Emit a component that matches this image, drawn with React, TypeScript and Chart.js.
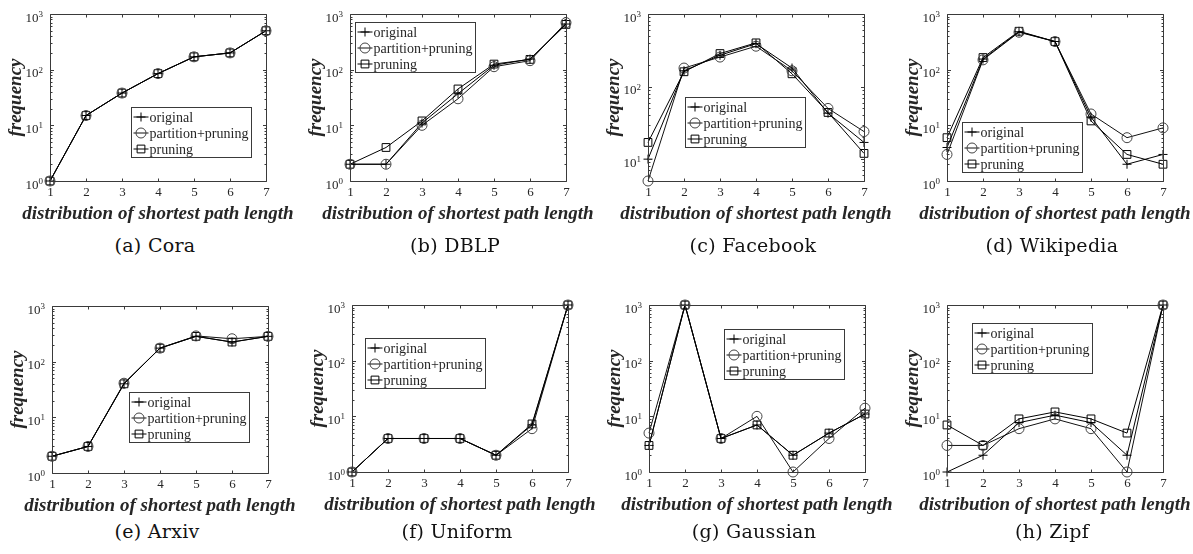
import React, { useEffect, useRef } from 'react';
import { Chart, registerables } from 'chart.js';

Chart.register(...registerables);

// ---------------- data ----------------
const xCategories = [1, 2, 3, 4, 5, 6, 7];
const xTickLabels = ['1', '2', '3', '4', '5', '6', '7'];
const yDecadeExponents = [0, 1, 2, 3];
const seriesNames = ['original', 'partition+pruning', 'pruning'];
const captions = ['(a) Cora', '(b) DBLP', '(c) Facebook', '(d) Wikipedia', '(e) Arxiv', '(f) Uniform', '(g) Gaussian', '(h) Zipf'];
const xAxisTitle = 'distribution of shortest path length';
const yAxisTitle = 'frequency';

const coraOriginal = [1, 15, 38, 85, 170, 200, 500];
const coraPartition = [1, 15, 38, 85, 170, 200, 500];
const coraPruning = [1, 15, 38, 85, 170, 200, 500];

const dblpOriginal = [2, 2, 11, 37, 120, 155, 660];
const dblpPartition = [2, 2, 10, 30, 113, 145, 700];
const dblpPruning = [2, 4, 12, 45, 126, 153, 650];

const facebookOriginal = [10, 165, 270, 390, 180, 43, 17];
const facebookPartition = [5, 180, 255, 360, 165, 50, 24];
const facebookPruning = [17, 160, 285, 400, 150, 44, 12];

const wikiOriginal = [4, 155, 480, 320, 14, 2, 3];
const wikiPartition = [3, 150, 470, 320, 16, 6, 9];
const wikiPruning = [6, 165, 490, 320, 12, 3, 2];

const arxivOriginal = [2, 3, 40, 175, 285, 225, 285];
const arxivPartition = [2, 3, 41, 175, 290, 258, 285];
const arxivPruning = [2, 3, 40, 175, 285, 225, 285];

const uniformOriginal = [1, 4, 4, 4, 2, 7, 1000];
const uniformPartition = [1, 4, 4, 4, 2, 6, 1000];
const uniformPruning = [1, 4, 4, 4, 2, 7.3, 1000];

const gaussianOriginal = [3, 1000, 4, 7, 2, 5, 11];
const gaussianPartition = [5, 1000, 4, 10, 1, 4, 14];
const gaussianPruning = [3, 1000, 4, 7, 2, 5, 11];

const zipfOriginal = [1, 2, 7.7, 10.5, 7.7, 2, 1000];
const zipfPartition = [3, 3, 6, 9, 6, 1, 1000];
const zipfPruning = [7, 3, 9, 12, 9, 5, 1000];

const yMinValues = [1, 1, 5, 1, 1, 1, 1, 1];
const yMaxValue = 1000;

const panelSeries = [
  [coraOriginal, coraPartition, coraPruning],
  [dblpOriginal, dblpPartition, dblpPruning],
  [facebookOriginal, facebookPartition, facebookPruning],
  [wikiOriginal, wikiPartition, wikiPruning],
  [arxivOriginal, arxivPartition, arxivPruning],
  [uniformOriginal, uniformPartition, uniformPruning],
  [gaussianOriginal, gaussianPartition, gaussianPruning],
  [zipfOriginal, zipfPartition, zipfPruning],
];

// ---------------- layout / style ----------------
const PLOT_W = 216;
const PLOT_H = 167;
const PAD_L = 50;
const PAD_T = 10;
const PAD_R = 40;
const PAD_B = 45;
const PLOT_POS = [
  [50, 14], [350, 14], [648, 14], [947, 14],
  [52, 306], [352, 305], [649, 305], [947, 305],
];
const CAPTION_Y = [245, 245, 245, 245, 531, 531, 531, 531];
const LEGEND_POS = [
  [81, 93], [5, 8], [37, 83], [15, 108],
  [77, 86], [13, 33], [75, 24], [25, 18],
];
const AXIS_COLOR = '#3a3a3a';
const TEXT_COLOR = '#262626';
const LINE_COLORS = ['#000000', '#111111', '#000000'];
const MARKER_COLORS = ['#000000', '#444444', '#000000'];
const POINT_STYLES = ['cross', 'circle', 'rect'];
const POINT_RADII = [4.5, 5, 5.5];
const SERIF = '"Liberation Serif", "Times New Roman", serif';

function drawMarker(ctx: CanvasRenderingContext2D, style: string, x: number, y: number, r: number, color: string) {
  ctx.save();
  ctx.strokeStyle = color;
  ctx.lineWidth = 1;
  ctx.beginPath();
  if (style === 'cross') {
    ctx.moveTo(x - r, y); ctx.lineTo(x + r, y);
    ctx.moveTo(x, y - r); ctx.lineTo(x, y + r);
  } else if (style === 'circle') {
    ctx.arc(x, y, r, 0, Math.PI * 2);
  } else {
    const s = Math.SQRT1_2 * r;
    ctx.rect(x - s, y - s, 2 * s, 2 * s);
  }
  ctx.stroke();
  ctx.restore();
}

const axesPlugin = {
  id: 'matlabAxes',
  afterDatasetsDraw(chart: any, _args: any, opts: any) {
    const ctx: CanvasRenderingContext2D = chart.ctx;
    const a = chart.chartArea;
    const xs = chart.scales.x;
    const ys = chart.scales.y;
    ctx.save();
    const L = Math.round(a.left) + 0.5;
    const R = Math.round(a.right) + 0.5;
    const T = Math.round(a.top) + 0.5;
    const B = Math.round(a.bottom) + 0.5;
    ctx.strokeStyle = AXIS_COLOR;
    ctx.lineWidth = 1;
    ctx.beginPath();
    ctx.rect(L, T, R - L, B - T);
    ctx.stroke();

    // x ticks + labels
    ctx.fillStyle = TEXT_COLOR;
    ctx.font = '13px ' + SERIF;
    ctx.textAlign = 'center';
    ctx.textBaseline = 'alphabetic';
    xCategories.forEach((xv, i) => {
      const px = Math.round(xs.getPixelForValue(xv)) + 0.5;
      ctx.beginPath();
      ctx.moveTo(px, B); ctx.lineTo(px, B - 3);
      ctx.moveTo(px, T); ctx.lineTo(px, T + 3);
      ctx.stroke();
      ctx.fillText(xTickLabels[i], px, a.bottom + 15);
    });

    // y ticks (major + minor) and labels
    const yMin = ys.min;
    const yMax = ys.max;
    for (let k = -1; k <= 3; k++) {
      for (let m = 1; m <= 9; m++) {
        const v = m * Math.pow(10, k);
        if (v < yMin * 0.999 || v > yMax * 1.001) continue;
        const py = Math.round(ys.getPixelForValue(v)) + 0.5;
        const len = m === 1 ? 3.5 : 2;
        ctx.beginPath();
        ctx.moveTo(L, py); ctx.lineTo(L + len, py);
        ctx.moveTo(R, py); ctx.lineTo(R - len, py);
        ctx.stroke();
      }
    }
    yDecadeExponents.forEach((e) => {
      const v = Math.pow(10, e);
      if (v < yMin * 0.999 || v > yMax * 1.001) return;
      const py = ys.getPixelForValue(v);
      const sup = String(e);
      ctx.font = '9px ' + SERIF;
      const supW = ctx.measureText(sup).width;
      const supRight = a.left - 7;
      ctx.textAlign = 'left';
      ctx.fillText(sup, supRight - supW, py + 3);
      ctx.font = '13px ' + SERIF;
      ctx.textAlign = 'right';
      ctx.fillText('10', supRight - supW, py + 7.5);
    });

    // axis titles
    ctx.font = 'italic bold 19px ' + SERIF;
    ctx.textAlign = 'center';
    ctx.fillStyle = TEXT_COLOR;
    ctx.fillText(xAxisTitle, (a.left + a.right) / 2, a.bottom + 38);
    ctx.save();
    ctx.translate(a.left - 29.5, (a.top + a.bottom) / 2);
    ctx.rotate(-Math.PI / 2);
    ctx.fillText(yAxisTitle, 0, 0);
    ctx.restore();

    // legend
    const [lx, ly] = opts.legendPos;
    const bx = Math.round(a.left + lx) + 0.5;
    const by = Math.round(a.top + ly) + 0.5;
    const bw = 120;
    const bh = 50;
    ctx.fillStyle = '#ffffff';
    ctx.fillRect(bx, by, bw, bh);
    ctx.strokeStyle = AXIS_COLOR;
    ctx.strokeRect(bx, by, bw, bh);
    ctx.font = '14px ' + SERIF;
    ctx.textAlign = 'left';
    seriesNames.forEach((name, i) => {
      const cy = by + 9.5 + 16 * i;
      ctx.strokeStyle = LINE_COLORS[i];
      ctx.beginPath();
      ctx.moveTo(bx + 2, cy); ctx.lineTo(bx + 17, cy);
      ctx.stroke();
      drawMarker(ctx, POINT_STYLES[i], bx + 9.5, cy, POINT_RADII[i], MARKER_COLORS[i]);
      ctx.fillStyle = TEXT_COLOR;
      ctx.fillText(name, bx + 18, cy + 4.5);
    });
    ctx.restore();
  },
};

function Panel({ index }: { index: number }) {
  const ref = useRef<HTMLCanvasElement | null>(null);
  useEffect(() => {
    if (!ref.current) return;
    const series = panelSeries[index];
    const chart = new Chart(ref.current, {
      type: 'line',
      data: {
        datasets: series.map((vals, si) => ({
          label: seriesNames[si],
          data: xCategories.map((x, i) => ({ x, y: vals[i] })),
          borderColor: LINE_COLORS[si],
          borderWidth: 1,
          tension: 0,
          fill: false,
          pointStyle: POINT_STYLES[si] as any,
          pointRadius: POINT_RADII[si],
          pointBorderColor: MARKER_COLORS[si],
          pointBorderWidth: 1,
          pointBackgroundColor: 'rgba(0,0,0,0)',
          clip: false as any,
        })),
      },
      options: {
        animation: false,
        responsive: false,
        events: [],
        layout: { padding: { left: PAD_L, top: PAD_T, right: PAD_R, bottom: PAD_B } },
        scales: {
          x: { type: 'linear', min: 1, max: 7, display: false },
          y: { type: 'logarithmic', min: yMinValues[index], max: yMaxValue, display: false },
        },
        plugins: {
          legend: { display: false },
          tooltip: { enabled: false },
          // @ts-ignore
          matlabAxes: { legendPos: LEGEND_POS[index] },
        },
      } as any,
      plugins: [axesPlugin as any],
    });
    return () => chart.destroy();
  }, [index]);
  const [px, py] = PLOT_POS[index];
  const w = PAD_L + PLOT_W + PAD_R;
  const h = PAD_T + PLOT_H + PAD_B;
  return (
    <>
      <canvas
        ref={ref}
        width={w}
        height={h}
        style={{ position: 'absolute', left: px - PAD_L, top: py - PAD_T, width: w, height: h }}
      />
      <div
        style={{
          position: 'absolute',
          left: px + PLOT_W / 2 - 3 - 150,
          top: CAPTION_Y[index] - 12,
          width: 300,
          height: 24,
          lineHeight: '24px',
          textAlign: 'center',
          fontFamily: '"DejaVu Serif", serif',
          fontSize: 19,
          letterSpacing: 0.3,
          color: '#111',
          whiteSpace: 'nowrap',
        }}
      >
        {captions[index]}
      </div>
    </>
  );
}

export default function App() {
  return (
    <div style={{ position: 'absolute', left: 0, top: 0, width: 1193, height: 554, background: '#fff', overflow: 'hidden' }}>
      {panelSeries.map((_, i) => (
        <Panel key={i} index={i} />
      ))}
    </div>
  );
}
